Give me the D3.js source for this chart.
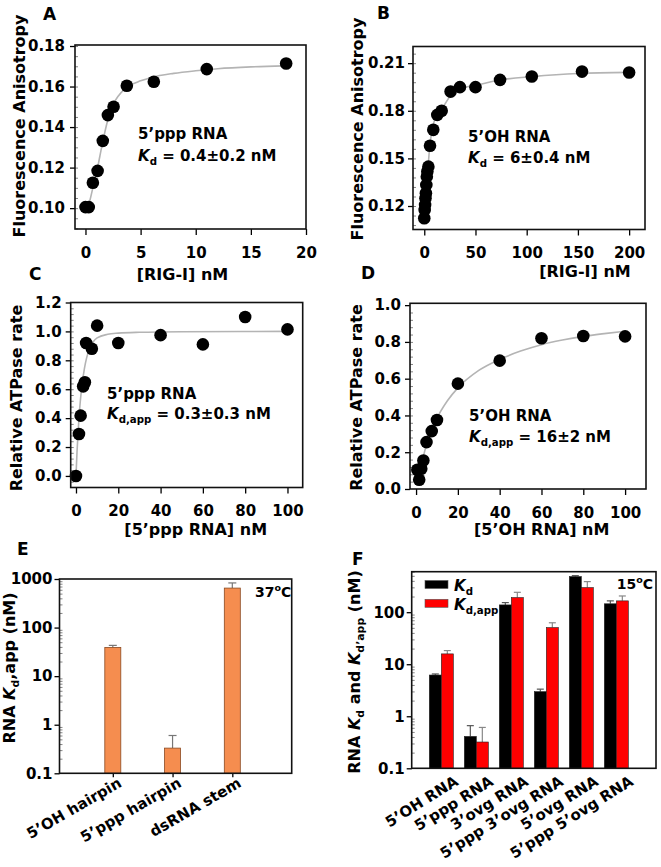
<!DOCTYPE html>
<html><head><meta charset="utf-8">
<script src="https://cdn.jsdelivr.net/npm/d3@7"></script>
<style>
body{margin:0;background:#fff;}
svg text{font-family:"DejaVu Sans",sans-serif;font-weight:bold;fill:#000;}
</style></head><body>
<svg id="fig" width="661" height="867"></svg>
<script>
// ---------- Data ----------
const aX = [0, 0.3, 0.67, 1.1, 1.57, 2.03, 2.55, 3.75, 6.2, 11.0, 18.2];
const aY = [0.1005, 0.1005, 0.1125, 0.1184, 0.1332, 0.1459, 0.150, 0.1604, 0.1624, 0.1686, 0.1714];
const aFitX = [0, 0.3, 0.67, 1.1, 1.5, 2, 2.5, 3, 3.5, 4, 5, 6, 8, 10, 12, 15, 18];
const aFitY = [0.100, 0.102, 0.110, 0.120, 0.131, 0.143, 0.151, 0.1555, 0.1585, 0.1605, 0.1628, 0.1645, 0.1665, 0.1678, 0.1688, 0.1697, 0.1702];
const aXTicks = [0, 5, 10, 15, 20];
const aYTicks = [0.10, 0.12, 0.14, 0.16, 0.18];

const bX = [0, 0.4, 0.8, 1.2, 1.6, 2, 2.5, 3, 4, 5.6, 8.8, 12.7, 17, 25.7, 34.8, 50, 74, 105, 154, 200];
const bY = [0.1123, 0.1175, 0.1207, 0.1249, 0.128, 0.1333, 0.1385, 0.1417, 0.1448, 0.158, 0.168, 0.1774, 0.180, 0.1921, 0.1949, 0.1949, 0.1995, 0.2016, 0.2047, 0.2041];
const bFitX = [0, 1, 2, 3, 4, 5, 6, 8, 10, 13, 17, 20, 25, 30, 35, 50, 75, 105, 150, 200];
const bFitY = [0.112, 0.121, 0.130, 0.139, 0.147, 0.155, 0.161, 0.169, 0.174, 0.178, 0.181, 0.184, 0.189, 0.192, 0.194, 0.196, 0.1995, 0.2015, 0.2035, 0.2042];
const bXTicks = [0, 50, 100, 150, 200];
const bYTicks = [0.12, 0.15, 0.18, 0.21];

const cX = [0, 1.4, 2.2, 3.4, 4.2, 4.8, 7.5, 10, 20, 40, 60, 80, 100];
const cY = [0.0, 0.29, 0.417, 0.62, 0.648, 0.92, 0.88, 1.04, 0.92, 0.974, 0.91, 1.10, 1.014];
const cFitX = [0, 0.5, 1, 1.5, 2, 3, 4, 5, 6, 8, 10, 15, 20, 30, 50, 100];
const cFitY = [0, 0.17, 0.30, 0.42, 0.51, 0.645, 0.745, 0.815, 0.865, 0.925, 0.955, 0.98, 0.988, 0.994, 0.998, 1.0];
const cXTicks = [0, 20, 40, 60, 80, 100];
const cYTicks = [0.0, 0.2, 0.4, 0.6, 0.8, 1.0, 1.2];

const dX = [0.6, 1.5, 2.5, 3.5, 5, 7.5, 10, 20, 40, 60, 80, 100];
const dY = [0.105, 0.05, 0.11, 0.155, 0.255, 0.315, 0.375, 0.573, 0.698, 0.82, 0.832, 0.83];
const dFitX = [2.5, 4, 5, 7.5, 10, 15, 20, 30, 40, 50, 60, 70, 80, 90, 100];
const dFitY = [0.12, 0.2, 0.24, 0.32, 0.385, 0.48, 0.55, 0.645, 0.705, 0.75, 0.785, 0.81, 0.83, 0.845, 0.858];
const dXTicks = [0, 20, 40, 60, 80, 100];
const dYTicks = [0.0, 0.2, 0.4, 0.6, 0.8, 1.0];

const eCats = ["5’OH hairpin", "5’ppp hairpin", "dsRNA stem"];
const eVals = [39, 0.33, 650];
const eErr = [4, 0.27, 180];
const eYTicks = [0.1, 1, 10, 100, 1000];

const fCats = ["5’OH RNA", "5’ppp RNA", "3’ovg RNA", "5’ppp 3’ovg RNA", "5’ovg RNA", "5’ppp 5’ovg RNA"];
const fKd = [6.2, 0.41, 138, 2.97, 484, 145];
const fKdErr = [0.3, 0.25, 15, 0.35, 20, 20];
const fKdapp = [15.8, 0.32, 191, 50.6, 297, 165];
const fKdappErr = [2.5, 0.29, 50, 12, 90, 40];
const fSeries = ["Kd", "Kdapp"];
const fYTicks = [0.1, 1, 10, 100];

// ---------- Helpers ----------
const svg = d3.select("#fig");

function rich(sel, parts, fs) {
  let shift = 0;
  parts.forEach(p => {
    const ts = sel.append("tspan").text(p.t);
    const target = p.sub ? 0.28 * fs : (p.sup ? -0.42 * fs : 0);
    ts.attr("dy", target - shift);
    shift = target;
    if (p.sub || p.sup) ts.attr("font-size", (fs * 0.68) + "px");
    if (p.it) ts.attr("font-style", "italic");
  });
}

function label(x, y, txt, fs, anchor) {
  return svg.append("text").attr("x", x).attr("y", y)
    .attr("font-size", fs + "px").attr("text-anchor", anchor || "start").text(txt);
}

function yTitle(x, y, parts, fs) {
  const t = svg.append("text").attr("transform", `translate(${x},${y}) rotate(-90)`)
    .attr("text-anchor", "middle").attr("font-size", fs + "px");
  rich(t, parts, fs);
  return t;
}

function styleAxis(g, fs) {
  g.select(".domain").remove();
  g.selectAll(".tick line").attr("stroke", "#000").attr("stroke-width", 1.3);
  g.selectAll(".tick text").attr("font-size", fs + "px").attr("font-family", "DejaVu Sans").attr("font-weight", "bold").attr("fill", "#000");
}

function frame(x0, x1, y0, y1) {
  svg.append("rect").attr("x", x0).attr("y", y0).attr("width", x1 - x0).attr("height", y1 - y0)
    .attr("fill", "none").attr("stroke", "#111").attr("stroke-width", 1.6);
}

function scatterPanel(o) {
  const x = d3.scaleLinear().domain(o.xDom).range([o.x0, o.x1]);
  const y = d3.scaleLinear().domain(o.yDom).range([o.y1, o.y0]);
  const minorG = svg.append("g").attr("transform", `translate(${o.x0},0)`)
    .call(d3.axisRight(y).tickValues(o.yMinor).tickSize(3).tickFormat(""));
  minorG.select(".domain").remove();
  minorG.selectAll("line").attr("stroke", "#666").attr("stroke-width", 0.8);

  const yg = svg.append("g").attr("transform", `translate(${o.x0},0)`)
    .call(d3.axisLeft(y).tickValues(o.yTicks).tickSize(5).tickPadding(o.yPad).tickFormat(d3.format(o.yFmt)));
  styleAxis(yg, 15);
  const xg = svg.append("g").attr("transform", `translate(0,${o.y1})`)
    .call(d3.axisBottom(x).tickValues(o.xTicks).tickSize(6).tickPadding(12).tickFormat(d3.format("d")));
  styleAxis(xg, 15);

  const line = d3.line().x((d, i) => x(o.fitX[i])).y((d, i) => y(o.fitY[i])).curve(d3.curveMonotoneX);
  svg.append("path").datum(o.fitY).attr("d", line).attr("fill", "none")
    .attr("stroke", "#b4b4b4").attr("stroke-width", 1.6);

  svg.append("g").selectAll("circle").data(o.xs).join("circle")
    .attr("cx", d => x(d)).attr("cy", (d, i) => y(o.ys[i])).attr("r", 6.3).attr("fill", "#000");

  frame(o.x0, o.x1, o.y0, o.y1);
}

// ---------- Panel A ----------
scatterPanel({x0: 75, x1: 306, y0: 45, y1: 229, xDom: [-0.95, 20], yDom: [0.0897, 0.1805],
  xTicks: aXTicks, yTicks: aYTicks, yFmt: ".2f", yPad: 5,
  yMinor: d3.range(0.09, 0.181, 0.005),
  xs: aX, ys: aY, fitX: aFitX, fitY: aFitY});
// ---------- Panel B ----------
scatterPanel({x0: 413, x1: 645, y0: 46.5, y1: 229.5, xDom: [-11, 215.5], yDom: [0.1052, 0.2205],
  xTicks: bXTicks, yTicks: bYTicks, yFmt: ".2f", yPad: 3,
  yMinor: d3.range(0.108, 0.22, 0.006),
  xs: bX, ys: bY, fitX: bFitX, fitY: bFitY});
// ---------- Panel C ----------
scatterPanel({x0: 70.7, x1: 302.7, y0: 302.5, y1: 487.5, xDom: [-2.5, 107.2], yDom: [-0.08, 1.2],
  xTicks: cXTicks, yTicks: cYTicks, yFmt: ".1f", yPad: 4,
  yMinor: d3.range(-0.04, 1.2, 0.04),
  xs: cX, ys: cY, fitX: cFitX, fitY: cFitY});
// ---------- Panel D ----------
scatterPanel({x0: 410, x1: 646, y0: 303.3, y1: 489, xDom: [-2.9, 110], yDom: [0, 1.01],
  xTicks: dXTicks, yTicks: dYTicks, yFmt: ".1f", yPad: 4,
  yMinor: d3.range(0.04, 1.0, 0.04),
  xs: dX, ys: dY, fitX: dFitX, fitY: dFitY});

// panel annotations
const fsA = 15;
label(138, 139, "5’ppp RNA", fsA);
rich(label(138, 161, "", fsA), [{t: "K", it: true}, {t: "d", sub: true}, {t: " = 0.4±0.2 nM"}], fsA);
label(468, 142, "5’OH RNA", fsA);
rich(label(468, 163, "", fsA), [{t: "K", it: true}, {t: "d", sub: true}, {t: " = 6±0.4 nM"}], fsA);
label(107, 399, "5’ppp RNA", fsA);
rich(label(107, 419, "", fsA), [{t: "K", it: true}, {t: "d,app", sub: true}, {t: " = 0.3±0.3 nM"}], fsA);
label(469, 421, "5’OH RNA", fsA);
rich(label(469, 442, "", fsA), [{t: "K", it: true}, {t: "d,app", sub: true}, {t: " = 16±2 nM"}], fsA);

// axis titles
const fsT = 16;
label(182.5, 280, "[RIG-I] nM", fsT, "middle");
label(585, 277, "[RIG-I] nM", fsT, "middle");
label(195.7, 535, "[5’ppp RNA] nM", fsT, "middle");
label(541.7, 535, "[5’OH RNA] nM", fsT, "middle");
yTitle(25, 126, [{t: "Fluorescence Anisotropy"}], fsT);
yTitle(363, 129, [{t: "Fluorescence Anisotropy"}], fsT);
yTitle(21.5, 398, [{t: "Relative ATPase rate"}], fsT);
yTitle(361.5, 397.5, [{t: "Relative ATPase rate"}], fsT);

// panel letters
const fsL = 17;
label(43, 20, "A", fsL); label(377, 18.5, "B", fsL);
label(29, 280, "C", fsL); label(361, 278.5, "D", fsL);
label(17, 555, "E", fsL); label(352, 565, "F", fsL);

// ---------- Panel E ----------
(function () {
  const x0 = 59.5, x1 = 291.7, y0 = 579, y1 = 773.3;
  const x = d3.scalePoint().domain(eCats).range([x0, x1]).padding(0.943).align(0.473);
  const y = d3.scaleLog().domain([0.1, 1000]).range([y1, y0]);
  const minor = [];
  [0.1, 1, 10, 100].forEach(dec => { for (let k = 2; k <= 9; k++) minor.push(dec * k); });
  const mg = svg.append("g").attr("transform", `translate(${x0},0)`)
    .call(d3.axisRight(y).tickValues(minor).tickSize(3).tickFormat(""));
  mg.select(".domain").remove();
  mg.selectAll("line").attr("stroke", "#666").attr("stroke-width", 0.8);
  const yg = svg.append("g").attr("transform", `translate(${x0},0)`)
    .call(d3.axisLeft(y).tickValues(eYTicks).tickSize(5).tickPadding(2).tickFormat(d => d < 1 ? "0.1" : d3.format("d")(d)));
  styleAxis(yg, 15);
  const xg = svg.append("g").attr("transform", `translate(0,${y1})`)
    .call(d3.axisBottom(x).tickSize(4).tickFormat(""));
  styleAxis(xg, 15);
  const bw = 16;
  eCats.forEach((c, i) => {
    const cx = x(c), top = y(eVals[i]), et = y(eVals[i] + eErr[i]);
    svg.append("line").attr("x1", cx).attr("x2", cx).attr("y1", top).attr("y2", et).attr("stroke", "#777").attr("stroke-width", 1.2);
    svg.append("line").attr("x1", cx - 4).attr("x2", cx + 4).attr("y1", et).attr("y2", et).attr("stroke", "#777").attr("stroke-width", 1.2);
  });
  svg.append("g").selectAll("rect").data(eCats).join("rect")
    .attr("x", d => x(d) - bw / 2).attr("width", bw)
    .attr("y", (d, i) => y(eVals[i])).attr("height", (d, i) => y1 - y(eVals[i]))
    .attr("fill", "#f58d4f").attr("stroke", "#8a4a22").attr("stroke-width", 0.8);
  frame(x0, x1, y0, y1);
  eCats.forEach(c => {
    svg.append("text").attr("transform", `translate(${x(c) + 10},${786}) rotate(-30)`)
      .attr("text-anchor", "end").attr("font-size", "15px").text(c);
  });
  rich(label(255, 597, "", 14), [{t: "37"}, {t: "o", sup: true}, {t: "C"}], 14);
  yTitle(15, 668, [{t: "RNA "}, {t: "K", it: true}, {t: "d", sub: true}, {t: ",app (nM)"}], fsT);
})();

// ---------- Panel F ----------
(function () {
  const x0 = 411.7, x1 = 656, y0 = 571.7, y1 = 768.3;
  const x = d3.scaleBand().domain(fCats).range([x0, x1]).paddingInner(0.314).paddingOuter(0.647).align(0.389);
  const xs = d3.scaleBand().domain(fSeries).range([0, x.bandwidth()]);
  const y = d3.scaleLog().domain([0.1, 600]).range([y1, y0]);
  const minor = [];
  [0.1, 1, 10, 100].forEach(dec => { for (let k = 2; k <= 9; k++) if (dec * k <= 600) minor.push(dec * k); });
  const mg = svg.append("g").attr("transform", `translate(${x0},0)`)
    .call(d3.axisRight(y).tickValues(minor).tickSize(3).tickFormat(""));
  mg.select(".domain").remove();
  mg.selectAll("line").attr("stroke", "#666").attr("stroke-width", 0.8);
  const yg = svg.append("g").attr("transform", `translate(${x0},0)`)
    .call(d3.axisLeft(y).tickValues(fYTicks).tickSize(5).tickPadding(2).tickFormat(d => d < 1 ? "0.1" : d3.format("d")(d)));
  styleAxis(yg, 15);
  const xg = svg.append("g").attr("transform", `translate(0,${y1})`)
    .call(d3.axisBottom(x).tickSize(0).tickFormat(""));
  styleAxis(xg, 15);

  const series = [
    {key: "Kd", vals: fKd, err: fKdErr, fill: "#000000", ec: "#555"},
    {key: "Kdapp", vals: fKdapp, err: fKdappErr, fill: "#ff0000", ec: "#888"}
  ];
  series.forEach(s => {
    fCats.forEach((c, i) => {
      const cx = x(c) + xs(s.key) + xs.bandwidth() / 2;
      const top = y(s.vals[i]), et = y(s.vals[i] + s.err[i]);
      svg.append("line").attr("x1", cx).attr("x2", cx).attr("y1", top).attr("y2", et).attr("stroke", s.ec).attr("stroke-width", 1.2);
      svg.append("line").attr("x1", cx - 3.5).attr("x2", cx + 3.5).attr("y1", et).attr("y2", et).attr("stroke", s.ec).attr("stroke-width", 1.2);
    });
    svg.append("g").selectAll("rect").data(fCats).join("rect")
      .attr("x", d => x(d) + xs(s.key)).attr("width", xs.bandwidth())
      .attr("y", (d, i) => y(s.vals[i])).attr("height", (d, i) => y1 - y(s.vals[i]))
      .attr("fill", s.fill).attr("stroke", "#222").attr("stroke-width", 0.6);
  });
  frame(x0, x1, y0, y1);
  fCats.forEach(c => {
    svg.append("text").attr("transform", `translate(${x(c) + x.bandwidth() / 2 + 18},${784}) rotate(-32)`)
      .attr("text-anchor", "end").attr("font-size", "15px").text(c);
  });
  svg.append("rect").attr("x", 425).attr("y", 580.5).attr("width", 23).attr("height", 8).attr("fill", "#000").attr("stroke", "#555").attr("stroke-width", 0.6);
  svg.append("rect").attr("x", 425).attr("y", 599.3).attr("width", 23).attr("height", 8).attr("fill", "#ff0000").attr("stroke", "#555").attr("stroke-width", 0.6);
  rich(label(454, 591, "", 15), [{t: "K", it: true}, {t: "d", sub: true}], 15);
  rich(label(454, 610, "", 15), [{t: "K", it: true}, {t: "d,app", sub: true}], 15);
  rich(label(653, 589, "", 14).attr("text-anchor", "end"), [{t: "15"}, {t: "o", sup: true}, {t: "C"}], 14);
  yTitle(360, 672, [{t: "RNA "}, {t: "K", it: true}, {t: "d", sub: true}, {t: " and "}, {t: "K", it: true}, {t: "d’app", sub: true}, {t: " (nM)"}], fsT);
})();
</script>
</body></html>
